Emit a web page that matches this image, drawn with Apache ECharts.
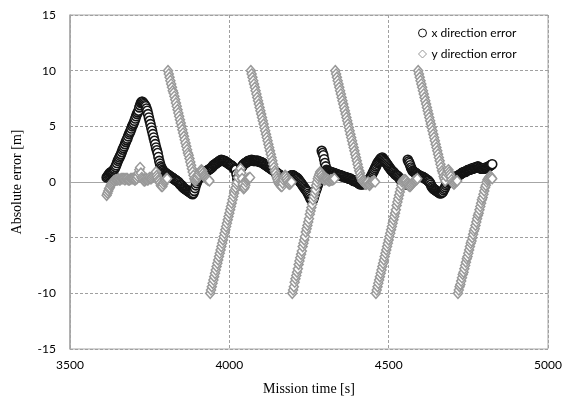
<!DOCTYPE html>
<html><head><meta charset="utf-8">
<script src="https://cdn.jsdelivr.net/npm/echarts@6/dist/echarts.min.js"></script>
<style>html,body{margin:0;padding:0;background:#fff}#c{width:567px;height:401px}</style>
</head><body><div id="c"></div>
<script>
// sampling: one reading every 2.5 s starting at 3615 s
const T0 = 3615, STEP = 2.5;
const seriesNames = ['x direction error', 'y direction error'];
const xErr = [
  0.4,0.5,0.6,0.7,0.8,0.85,0.9,0.95,1.0,1.1,1.2,1.35,1.5,1.7,1.9,2.05,2.2,2.35,2.5,2.7,
  2.9,3.05,3.2,3.4,3.6,3.75,3.9,4.1,4.3,4.45,4.6,4.8,5.0,5.15,5.3,5.5,5.7,5.9,6.1,6.25,
  6.4,6.7,6.9,7.1,7.2,7.2,7.1,7.0,6.9,6.8,6.6,6.4,6.1,5.8,5.5,5.2,4.9,4.6,4.3,4.0,
  3.7,3.4,3.1,2.85,2.6,2.25,1.9,1.65,1.4,1.25,1.1,1.0,0.9,0.85,0.8,0.75,0.7,0.65,0.6,0.55,
  0.5,0.45,0.4,0.35,0.3,0.25,0.2,0.15,0.1,0.05,0.0,-0.1,-0.2,-0.25,-0.3,-0.4,-0.5,-0.55,-0.6,-0.65,
  -0.7,-0.75,-0.8,-0.85,-0.9,-0.95,-1.0,-1.05,-1.1,-1.0,-0.8,-0.55,-0.3,-0.1,0.1,0.25,0.4,0.5,0.6,0.65,
  0.7,0.75,0.8,0.85,0.9,0.95,1.0,1.05,1.1,1.15,1.2,1.25,1.3,1.4,1.5,1.55,1.6,1.65,1.7,1.75,
  1.8,1.85,1.9,1.95,2.0,1.95,1.9,1.9,1.9,1.85,1.8,1.75,1.7,1.65,1.6,1.55,1.5,1.45,1.4,1.3,
  1.2,1.15,1.1,0.7,0.3,0.1,-0.1,-0.2,-0.3,1.3,1.4,1.5,1.6,1.65,1.7,1.75,1.8,1.85,1.9,1.9,
  1.9,1.95,2.0,1.95,1.9,1.9,1.9,1.9,1.9,1.9,1.9,1.85,1.8,1.8,1.8,1.75,1.7,1.65,1.6,1.55,
  1.5,1.45,1.4,1.35,1.3,1.25,1.2,1.15,1.1,1.05,1.0,0.95,0.9,0.85,0.8,0.75,0.7,0.65,0.6,0.55,
  0.5,0.45,0.4,0.35,0.3,0.25,0.2,0.25,0.3,0.4,0.5,0.55,0.6,0.6,0.6,0.55,0.5,0.45,0.4,0.35,
  0.3,0.2,0.1,0.0,-0.1,-0.2,-0.3,-0.4,-0.5,-0.6,-0.7,-0.8,-0.9,-1.05,-1.2,-1.35,-1.5,-1.6,-1.7,-1.6,
  -1.4,-1.15,-0.9,-0.7,-0.5,-0.3,-0.1,0.15,0.4,0.8,2.8,2.6,2.4,2.05,1.7,1.4,1.1,1.05,1.0,0.95,
  0.9,0.9,0.9,0.85,0.8,0.8,0.8,0.75,0.7,0.7,0.7,0.65,0.6,0.6,0.6,0.55,0.5,0.5,0.5,0.45,
  0.4,0.4,0.4,0.35,0.3,0.3,0.3,0.25,0.2,0.15,0.1,0.1,0.1,0.05,0.0,-0.05,-0.1,-0.15,-0.2,-0.2,
  -0.2,-0.2,-0.2,-0.15,-0.1,-0.1,-0.1,0.0,0.1,0.2,0.3,0.4,0.5,0.65,0.8,0.95,1.1,1.25,1.4,1.55,
  1.7,1.8,1.9,2.0,2.1,2.15,2.2,2.1,2.0,1.9,1.8,1.7,1.6,1.5,1.4,1.3,1.2,1.1,1.0,0.95,
  0.9,0.8,0.7,0.65,0.6,0.55,0.5,0.4,0.3,0.2,0.1,0.0,-0.1,-0.15,-0.2,-0.2,-0.2,-0.2,2.0,1.85,
  1.7,1.5,1.3,1.15,1.0,0.95,0.9,0.85,0.8,0.75,0.7,0.65,0.6,0.55,0.5,0.5,0.5,0.45,0.4,0.35,
  0.3,0.25,0.2,0.15,0.1,0.0,-0.1,-0.25,-0.4,-0.5,-0.6,-0.65,-0.7,-0.75,-0.8,-0.85,-0.9,-0.95,-1.0,-1.0,
  -1.0,-0.95,-0.9,-0.75,-0.6,-0.45,-0.3,-0.15,0.0,0.1,0.2,0.25,0.3,0.35,0.4,0.4,0.4,0.45,0.5,0.5,
  0.5,0.55,0.6,0.65,0.7,0.75,0.8,0.85,0.9,0.9,0.9,0.95,1.0,1.05,1.1,1.1,1.1,1.15,1.2,1.2,
  1.2,1.25,1.3,1.3,1.3,1.35,1.4,1.35,1.3,1.25,1.2,1.2,1.2,1.2,1.2,1.25,1.3,1.3,1.3,1.35,
  1.4,1.45,1.5,1.55,1.6
];
const yErr = [
  // 3615 - 3805
  -1.2,-1.0,-0.8,-0.6,-0.5,-0.3,-0.2,-0.1,0.0,0.1,0.1,0.2,0.2,0.2,0.2,0.3,0.2,0.2,0.3,0.3,
  0.3,0.3,0.3,0.2,0.3,0.3,0.3,0.2,0.2,0.2,0.3,0.3,0.3,0.3,0.3,0.2,0.2,0.3,0.3,0.5,
  0.8,1.1,1.3,0.8,0.4,0.3,0.2,0.1,0.1,0.2,0.3,0.2,0.2,0.3,0.4,0.3,0.3,0.4,0.5,0.6,
  0.7,0.8,0.9,0.6,0.4,0.2,0.1,-0.1,-0.3,-0.4,-0.4,-0.2,0.0,0.1,0.2,0.3,0.3,
  // 3807.5 - 3892.5
  10.0,9.7,9.4,9.1,8.8,8.5,8.2,8.0,7.7,7.4,7.1,6.8,6.5,6.2,5.9,5.6,5.3,5.0,4.7,4.4,
  4.1,3.8,3.5,3.2,2.9,2.6,2.4,2.1,1.8,1.5,1.2,0.9,0.6,0.3,0.1,
  // 3895 - 3937.5
  0.2,0.3,0.4,0.6,0.7,0.9,1.0,1.1,1.0,0.8,0.6,0.5,0.4,0.3,0.3,0.2,0.2,0.1,
  // 3940 - 4025
  -10.0,-9.7,-9.4,-9.1,-8.8,-8.5,-8.2,-7.9,-7.6,-7.3,-7.0,-6.7,-6.4,-6.1,-5.8,-5.5,-5.2,-4.9,-4.6,-4.3,
  -4.0,-3.7,-3.4,-3.1,-2.8,-2.5,-2.2,-1.9,-1.6,-1.3,-1.0,-0.7,-0.5,-0.2,0.0,
  // 4027.5 - 4065
  0.4,0.8,1.0,1.2,0.8,0.3,-0.2,-0.6,-0.5,-0.3,0.0,0.2,0.3,0.3,0.4,0.4,
  // 4067.5 - 4152.5
  10.0,9.7,9.4,9.1,8.8,8.5,8.2,7.9,7.6,7.3,7.0,6.7,6.4,6.1,5.8,5.5,5.2,4.9,4.6,4.3,
  4.0,3.7,3.4,3.1,2.8,2.5,2.2,1.9,1.6,1.3,1.0,0.8,0.5,0.3,0.1,
  // 4155 - 4195
  -0.1,-0.2,-0.3,-0.4,-0.4,-0.1,0.2,0.4,0.6,0.5,0.3,0.1,-0.1,-0.2,-0.2,-0.1,0.0,
  // 4197.5 - 4275
  -10.0,-9.7,-9.4,-9.0,-8.7,-8.4,-8.1,-7.8,-7.4,-7.1,-6.8,-6.5,-6.2,-5.8,-5.5,-5.2,-4.9,-4.5,-4.2,-3.9,
  -3.6,-3.3,-2.9,-2.6,-2.3,-2.0,-1.6,-1.3,-1.0,-0.7,-0.3,0.0,
  // 4277.5 - 4330
  0.3,0.5,0.7,0.9,0.8,0.6,0.4,0.3,0.2,0.2,0.3,0.3,0.2,0.2,0.1,0.1,0.2,0.2,0.2,0.2,0.3,0.3,
  // 4332.5 - 4417.5
  10.0,9.7,9.4,9.1,8.8,8.5,8.2,7.9,7.6,7.3,7.0,6.7,6.4,6.1,5.8,5.5,5.2,4.9,4.6,4.3,
  4.0,3.7,3.4,3.1,2.8,2.5,2.2,1.9,1.6,1.3,1.0,0.8,0.5,0.3,0.1,
  // 4420 - 4457.5
  0.1,0.0,-0.1,-0.2,-0.2,-0.1,0.0,-0.2,-0.3,-0.2,-0.1,0.0,0.0,0.1,0.1,0.0,
  // 4460 - 4542.5
  -10.0,-9.7,-9.4,-9.1,-8.8,-8.5,-8.2,-7.9,-7.6,-7.3,-7.0,-6.7,-6.4,-6.1,-5.8,-5.5,-5.2,-4.9,-4.6,-4.3,
  -4.0,-3.7,-3.4,-3.1,-2.8,-2.5,-2.1,-1.8,-1.5,-1.2,-0.9,-0.6,-0.3,0.0,
  // 4545 - 4590
  0.1,0.2,0.2,0.2,0.1,-0.1,-0.2,-0.3,-0.4,-0.4,-0.3,-0.2,-0.1,0.0,0.1,0.1,0.2,0.2,0.3,
  // 4592.5 - 4677.5
  10.0,9.7,9.4,9.1,8.8,8.5,8.2,7.9,7.6,7.3,7.0,6.7,6.4,6.1,5.8,5.5,5.2,4.9,4.6,4.3,
  4.0,3.7,3.4,3.1,2.8,2.5,2.2,1.9,1.6,1.3,1.0,0.8,0.5,0.3,0.1,
  // 4680 - 4715
  0.5,0.8,1.0,1.1,0.9,0.7,0.5,0.2,0.0,-0.1,-0.2,-0.1,0.0,0.1,0.1,
  // 4717.5 - 4807.5
  -10.0,-9.7,-9.4,-9.2,-8.9,-8.6,-8.3,-8.1,-7.8,-7.5,-7.2,-6.9,-6.7,-6.4,-6.1,-5.8,-5.5,-5.3,-5.0,-4.7,
  -4.4,-4.2,-3.9,-3.6,-3.3,-3.0,-2.8,-2.5,-2.2,-1.9,-1.6,-1.4,-1.1,-0.8,-0.5,-0.3,0.0,
  // 4810 - 4825
  0.2,0.3,0.4,0.5,0.5,0.4,0.3
];
const xAxisRange = [3500, 5000, 500];
const yAxisRange = [-15, 15, 5];

function pairs(vals) { return vals.map((v, i) => [T0 + i * STEP, v]); }

const chart = echarts.init(document.getElementById('c'), null, {renderer: 'canvas'});
const gridCol = '#a6a6a6';
const tickFont = {fontFamily: 'Lato', fontSize: 12, color: '#000'};
const titleFont = {fontFamily: 'Liberation Serif', fontSize: 14, color: '#000'};
chart.setOption({
  animation: false,
  backgroundColor: '#fff',
  grid: {left: 70, right: 19, top: 15, bottom: 50, show: true, borderColor: gridCol, borderWidth: 1, backgroundColor: 'transparent'},
  legend: {
    orient: 'vertical', left: 413, top: 22, itemGap: 9, itemWidth: 8, itemHeight: 8,
    textStyle: {fontFamily: 'Lato', fontSize: 12, color: '#000'},
    data: seriesNames.map(n => ({name: n, itemStyle: {color: '#fff', borderWidth: 1}}))
  },
  xAxis: [
    {type: 'value', min: xAxisRange[0], max: xAxisRange[1], interval: xAxisRange[2], position: 'bottom',
     axisLine: {show: true, onZero: true, lineStyle: {color: gridCol, width: 1}},
     axisTick: {show: false}, axisLabel: {show: false},
     splitLine: {show: true, lineStyle: {color: '#a0a0a0', type: [3, 2], width: 1}}},
    {type: 'value', min: xAxisRange[0], max: xAxisRange[1], interval: xAxisRange[2], position: 'bottom',
     axisLine: {show: false, onZero: false}, axisTick: {show: false}, splitLine: {show: false},
     axisLabel: Object.assign({margin: 10, formatter: v => String(v)}, tickFont),
     name: 'Mission time [s]', nameLocation: 'middle', nameGap: 33, nameTextStyle: titleFont}
  ],
  yAxis: {
    type: 'value', min: yAxisRange[0], max: yAxisRange[1], interval: yAxisRange[2],
    axisLine: {show: true, lineStyle: {color: gridCol, width: 1.5}},
    axisTick: {show: false},
    axisLabel: Object.assign({margin: 14}, tickFont),
    splitLine: {show: true, lineStyle: {color: '#a0a0a0', type: [3, 2], width: 1}},
    name: 'Absolute error [m]', nameLocation: 'middle', nameGap: 46, nameTextStyle: titleFont
  },
  series: [
    {name: seriesNames[0], type: 'scatter', xAxisIndex: 0, data: pairs(xErr), symbol: 'circle', symbolSize: 9,
     itemStyle: {color: '#ffffff', borderColor: '#141414', borderWidth: 1.6, opacity: 1}},
    {name: seriesNames[1], type: 'scatter', xAxisIndex: 0, data: pairs(yErr), symbol: 'diamond', symbolSize: [9, 10],
     itemStyle: {color: '#ffffff', borderColor: '#999999', borderWidth: 1.5, opacity: 1}}
  ]
});
</script></body></html>
